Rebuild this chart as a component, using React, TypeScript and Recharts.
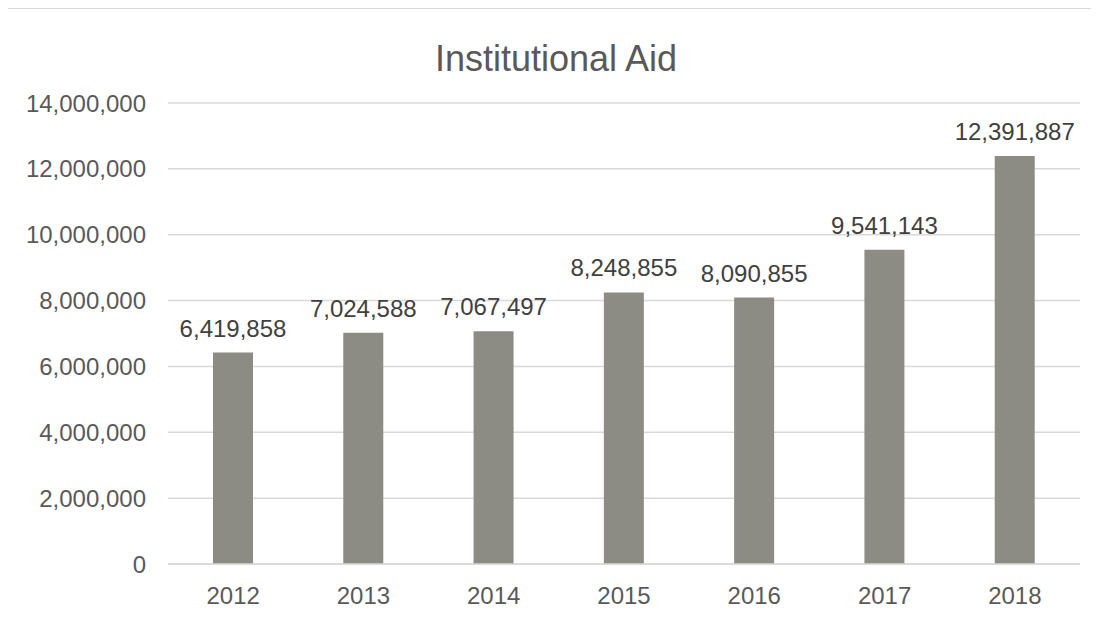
import React from 'react';
import { BarChart, Bar, XAxis, YAxis, CartesianGrid, LabelList } from 'recharts';

const years = ['2012', '2013', '2014', '2015', '2016', '2017', '2018'];
const aid = [6419858, 7024588, 7067497, 8248855, 8090855, 9541143, 12391887];
const yTicks = [0, 2000000, 4000000, 6000000, 8000000, 10000000, 12000000, 14000000];

const data = years.map((year, i) => ({ year, aid: aid[i] }));

const fmt = (v: number) => Number(v).toLocaleString('en-US');
const font = '"Liberation Sans", Arial, sans-serif';

export default function App() {
  return (
    <div
      style={{
        position: 'relative',
        width: 1094,
        height: 600,
        marginLeft: -3,
        borderTop: '1px solid #d9d9d9',
        fontFamily: font,
      }}
    >
      {/* left edge of the chart frame */}
      <div
        style={{
          position: 'absolute',
          left: 0,
          top: -1,
          width: 1,
          height: 611,
          background: '#d4d4d4',
        }}
      />
      <div
        style={{
          position: 'absolute',
          left: 0,
          top: 32,
          width: 1102,
          textAlign: 'center',
          fontSize: 36,
          lineHeight: '36px',
          color: '#595959',
        }}
      >
        Institutional Aid
      </div>
      <BarChart
        width={1091}
        height={599}
        data={data}
        margin={{ top: 94, right: 16, left: 1, bottom: 0 }}
      >
        <CartesianGrid vertical={false} stroke="#d9d9d9" strokeWidth={1.5} />
        <XAxis
          dataKey="year"
          height={44}
          axisLine={{ stroke: '#d9d9d9', strokeWidth: 1.5 }}
          tickLine={false}
          tickSize={0}
          tickMargin={23}
          tick={{ fill: '#595959', fontSize: 24, fontFamily: font }}
        />
        <YAxis
          width={162}
          domain={[0, 14000000]}
          ticks={yTicks}
          axisLine={false}
          tickLine={false}
          tickSize={0}
          tickMargin={22}
          tickFormatter={fmt}
          tick={{ fill: '#595959', fontSize: 24, fontFamily: font }}
        />
        <Bar dataKey="aid" fill="#8c8c84" barSize={40} isAnimationActive={false}>
          <LabelList
            dataKey="aid"
            position="top"
            offset={16}
            formatter={(v: any) => fmt(v)}
            style={{ fill: '#404040', fontSize: 24, fontFamily: font }}
          />
        </Bar>
      </BarChart>
    </div>
  );
}
